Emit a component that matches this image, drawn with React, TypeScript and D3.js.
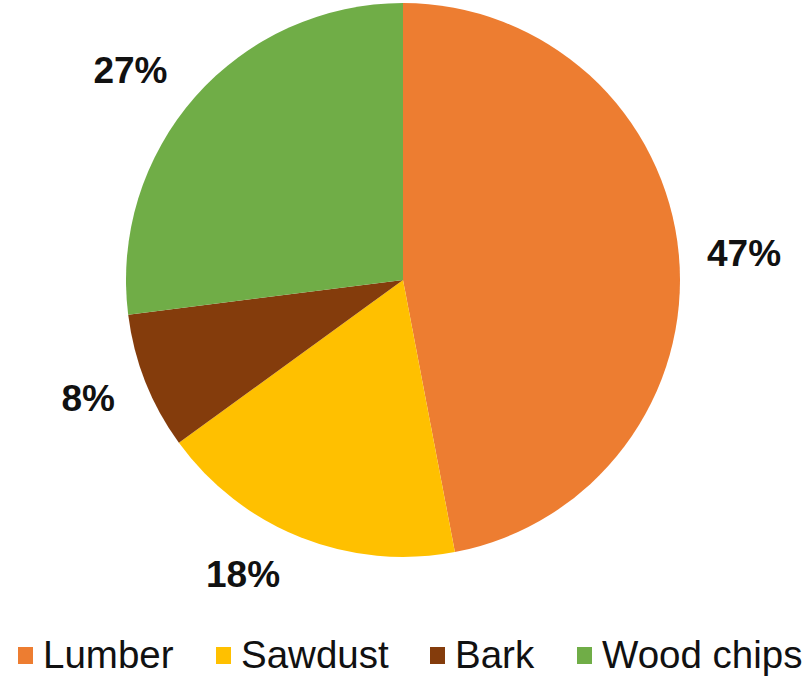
import React from "react";
import * as d3 from "d3";

const categories = ["Lumber", "Sawdust", "Bark", "Wood chips"];
const values = [47, 18, 8, 27];
const labels = ["47%", "18%", "8%", "27%"];
const colors = ["#ED7D31", "#FFC000", "#843C0C", "#70AD47"];

const W = 811;
const H = 700;
const cx = 403;
const cy = 280;
const R = 277;
const labelRadius = [1.235, 1.21, 1.215, 1.24];
const labelAngleOffset = [0.9, 6.9, 0.9, -3.9];

export default function App() {
  const pie = d3.pie<number>().sort(null).value((d) => d);
  const arcs = pie(values);
  const arc = d3.arc<d3.PieArcDatum<number>>().innerRadius(0).outerRadius(R);

  const legendX = [18, 216, 430, 577];

  return (
    <svg width={W} height={H} style={{ position: "absolute", left: 0, top: 0, background: "#fff" }}>
      <g transform={`translate(${cx},${cy})`}>
        {arcs.map((a, i) => (
          <path key={i} d={arc(a) || ""} fill={colors[i]} />
        ))}
        {arcs.map((a, i) => {
          const mid = (a.startAngle + a.endAngle) / 2 + (labelAngleOffset[i] * Math.PI) / 180;
          const r = R * labelRadius[i];
          const x = Math.sin(mid) * r;
          const y = -Math.cos(mid) * r;
          return (
            <text
              key={"l" + i}
              x={x}
              y={y}
              textAnchor="middle"
              dominantBaseline="central"
              fontFamily="Liberation Sans, Arial, sans-serif"
              fontWeight="bold"
              fontSize={37}
              fill="#111"
            >
              {labels[i]}
            </text>
          );
        })}
      </g>
      <g>
        {categories.map((c, i) => (
          <g key={c} transform={`translate(${legendX[i]},0)`}>
            <rect x={0} y={647} width={15} height={17} fill={colors[i]} />
            <text
              x={25}
              y={668}
              fontFamily="Liberation Sans, Arial, sans-serif"
              fontSize={38.5}
              fill="#111"
            >
              {c}
            </text>
          </g>
        ))}
      </g>
    </svg>
  );
}
